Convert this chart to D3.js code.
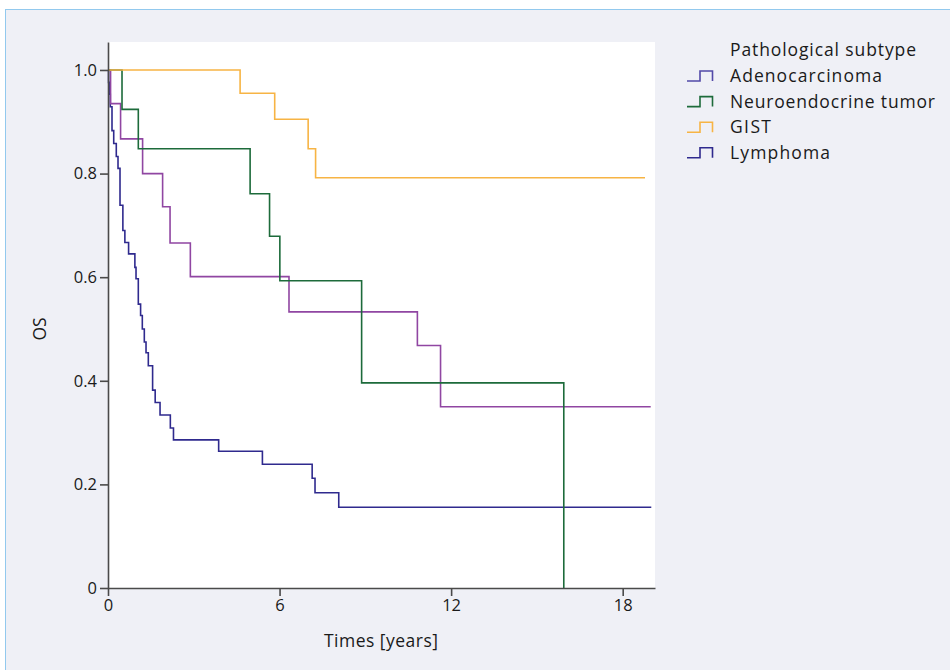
<!DOCTYPE html>
<html>
<head>
<meta charset="utf-8">
<script src="https://cdn.jsdelivr.net/npm/d3@7"></script>
<style>
  body { margin: 0; background: #fff; }
  svg text { font-family: "Open Sans", "Noto Sans", sans-serif; fill: #1a1a1a; }
</style>
</head>
<body>
<div id="chart"></div>
<script>
// Kaplan-Meier steps: time of each drop (years) and the new survival
var adenoTimes = [0.02, 0.04, 0.08, 0.14, 0.20, 0.29, 0.35, 0.42, 0.52, 0.59, 0.72, 0.94, 0.98, 1.06, 1.14, 1.20, 1.27, 1.33, 1.41, 1.56, 1.65, 1.82, 2.18, 2.29, 3.87, 5.40, 7.14, 7.24, 8.07];
var adenoSurv  = [0.976, 0.953, 0.929, 0.883, 0.858, 0.833, 0.810, 0.739, 0.690, 0.667, 0.645, 0.619, 0.597, 0.548, 0.526, 0.500, 0.475, 0.454, 0.429, 0.382, 0.358, 0.334, 0.309, 0.286, 0.264, 0.239, 0.212, 0.184, 0.156];
var adenoEnd = 19.0;

var neuroTimes = [0.49, 1.06, 4.97, 5.65, 6.01, 8.87, 15.94];
var neuroSurv  = [0.924, 0.848, 0.761, 0.679, 0.593, 0.396, 0];
var neuroEnd = 15.94;

var gistTimes = [4.62, 5.83, 7.00, 7.26];
var gistSurv  = [0.955, 0.905, 0.848, 0.792];
var gistEnd = 18.78;

var lymphTimes = [0.09, 0.44, 1.21, 1.91, 2.17, 2.88, 6.33, 10.82, 11.63];
var lymphSurv  = [0.935, 0.867, 0.800, 0.736, 0.666, 0.601, 0.533, 0.468, 0.350];
var lymphEnd = 18.98;

var groupNames = ['Adenocarcinoma', 'Neuroendocrine tumor', 'GIST', 'Lymphoma'];
var xTicks = [0, 6, 12, 18];
var yTicks = [0, 0.2, 0.4, 0.6, 0.8, 1.0];

var curveColor  = {Adenocarcinoma: '#2f2a8e', 'Neuroendocrine tumor': '#1d6b3b', GIST: '#f7b444', Lymphoma: '#9046a2'};
var legendColor = {Adenocarcinoma: '#5249a8', 'Neuroendocrine tumor': '#1d6b3b', GIST: '#f7b444', Lymphoma: '#2f2a8e'};

function buildSteps(times, surv, end) {
    var pts = [{t: 0, s: 1}];
    for (var i = 0; i < times.length; i++) pts.push({t: times[i], s: surv[i]});
    var last = pts[pts.length - 1];
    if (end > last.t) pts.push({t: end, s: last.s});
    return pts;
}

var series = [
    {name: 'Adenocarcinoma', pts: buildSteps(adenoTimes, adenoSurv, adenoEnd)},
    {name: 'Lymphoma', pts: buildSteps(lymphTimes, lymphSurv, lymphEnd)},
    {name: 'Neuroendocrine tumor', pts: buildSteps(neuroTimes, neuroSurv, neuroEnd)},
    {name: 'GIST', pts: buildSteps(gistTimes, gistSurv, gistEnd)}
];

var W = 950, H = 670;
var plot = {left: 108, right: 655, top: 42, bottom: 588};
var fs = 17.5;

var svg = d3.select('#chart').append('svg')
    .attr('width', W)
    .attr('height', H);

// panel
svg.append('rect')
    .attr('x', 5.5).attr('y', 9.5)
    .attr('width', W).attr('height', H)
    .attr('fill', '#eff0f6')
    .attr('stroke', '#92c9ee')
    .attr('stroke-width', 1);

svg.append('rect')
    .attr('x', plot.left).attr('y', plot.top)
    .attr('width', plot.right - plot.left)
    .attr('height', plot.bottom - plot.top)
    .attr('fill', '#fff');

var x = d3.scaleLinear().domain([0, 19.13]).range([plot.left, plot.right]);
var y = d3.scaleLinear().domain([0, 1.054]).range([plot.bottom, plot.top]);

var line = d3.line()
    .curve(d3.curveStepAfter)
    .x(function(d) { return x(d.t); })
    .y(function(d) { return y(d.s); });

var lines = svg.append('g').attr('id', 'lines');
series.forEach(function(sr) {
    lines.append('path')
        .datum(sr.pts)
        .attr('fill', 'none')
        .attr('stroke', curveColor[sr.name])
        .attr('stroke-width', 1.6)
        .attr('d', line);
});

// axes
var xAxis = svg.append('g')
    .attr('transform', 'translate(0,' + plot.bottom + ')')
    .call(d3.axisBottom(x).tickValues(xTicks).tickSize(8).tickSizeOuter(0).tickPadding(3));
var yAxis = svg.append('g')
    .attr('transform', 'translate(' + plot.left + ',0)')
    .call(d3.axisLeft(y).tickValues(yTicks).tickSize(8).tickSizeOuter(0).tickPadding(3)
        .tickFormat(function(d) { return d === 0 ? '0' : d3.format('.1f')(d); }));

[xAxis, yAxis].forEach(function(a) {
    a.select('.domain').attr('stroke', '#4a4a4a').attr('stroke-width', 1.6);
    a.selectAll('.tick line').attr('stroke', '#4a4a4a').attr('stroke-width', 1.6);
    a.selectAll('.tick text').attr('font-size', 16.5).attr('fill', '#1a1a1a')
        .style('font-family', '"Open Sans", sans-serif');
});

svg.append('text')
    .attr('x', 381).attr('y', 647)
    .attr('text-anchor', 'middle')
    .attr('font-size', fs)
    .attr('textLength', 114)
    .text('Times [years]');

svg.append('text')
    .attr('transform', 'translate(46,' + (y(0.5)) + ') rotate(-90)')
    .attr('text-anchor', 'middle')
    .attr('font-size', fs)
    .text('OS');

// legend
var legend = svg.append('g').attr('id', 'legend');
legend.append('text')
    .attr('x', 730).attr('y', 56)
    .attr('font-size', fs)
    .attr('textLength', 186)
    .text('Pathological subtype');

var labelWidths = [152, 205, 41, 100];
groupNames.forEach(function(name, i) {
    var cy = 76 + i * 25.6;
    var g = legend.append('g').attr('transform', 'translate(0,' + cy + ')');
    g.append('path')
        .attr('d', 'M687,5H700V-5H712.5V5')
        .attr('fill', 'none')
        .attr('stroke', legendColor[name])
        .attr('stroke-width', 1.6);
    g.append('text')
        .attr('x', 730).attr('y', 6)
        .attr('font-size', fs)
        .attr('textLength', labelWidths[i])
        .text(name);
});
</script>
</body>
</html>
